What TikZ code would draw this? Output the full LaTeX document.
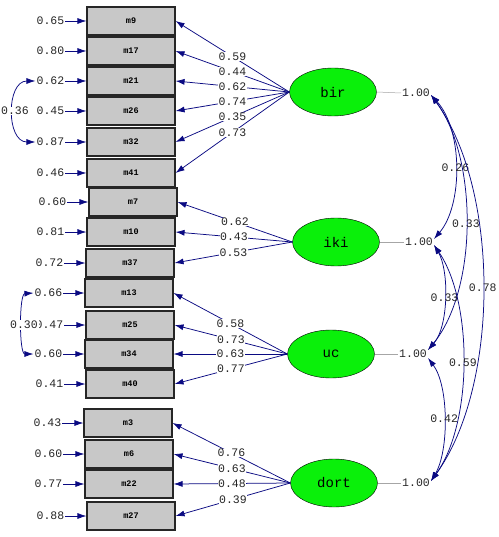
\documentclass[tikz,border=0pt]{standalone}
\usepackage{fontspec}
\setmonofont{Liberation Mono}
\usetikzlibrary{shapes.geometric,arrows.meta,positioning}
\definecolor{lisblue}{RGB}{10,10,130}
\definecolor{latgreen}{RGB}{10,240,10}
\definecolor{boxgray}{RGB}{200,200,200}

\begin{document}
\begin{tikzpicture}[x=1pt,y=-1pt,
  ind/.style={draw=black!85,line width=1.1pt,fill=boxgray,minimum width=88pt,
    minimum height=28pt,inner sep=0pt,font=\ttfamily\bfseries\fontsize{8.5}{9}\selectfont},
  lat/.style={ellipse,draw,fill=latgreen,minimum width=87pt,minimum height=48pt,
    inner sep=0pt,font=\ttfamily\fontsize{14}{16}\selectfont},
  num/.style={font=\ttfamily\fontsize{11.5}{13}\selectfont,text=black!85,inner sep=1pt},
  lab/.style={num,fill=white,inner sep=0.5pt},
  arr/.style={draw=lisblue,line width=0.75pt,-{Latex[length=9pt,width=6pt]}},
  cov/.style={draw=lisblue,line width=0.75pt,
    {Latex[length=9pt,width=6pt]}-{Latex[length=9pt,width=6pt]}}]

\useasboundingbox (0,0) rectangle (498,537);

% observed variables
\node[ind] (m9) at (131,21) {m9};
\node[ind] (m17) at (131,51) {m17};
\node[ind] (m21) at (131,81) {m21};
\node[ind] (m26) at (131,111) {m26};
\node[ind] (m32) at (131,142) {m32};
\node[ind] (m41) at (131,173) {m41};
\node[ind] (m7) at (133,202) {m7};
\node[ind] (m10) at (131,232) {m10};
\node[ind] (m37) at (130,263) {m37};
\node[ind] (m13) at (129,293) {m13};
\node[ind] (m25) at (130,325) {m25};
\node[ind] (m34) at (129,354) {m34};
\node[ind] (m40) at (130,384) {m40};
\node[ind] (m3) at (128,423) {m3};
\node[ind] (m6) at (129,454) {m6};
\node[ind] (m22) at (129,484) {m22};
\node[ind] (m27) at (131,516) {m27};

% error variances
\node[num,left=21pt of m9] (e9) {0.65};
\node[num,left=21pt of m17] (e17) {0.80};
\node[num,left=21pt of m21] (e21) {0.62};
\node[num,left=21pt of m26] (e26) {0.45};
\node[num,left=21pt of m32] (e32) {0.87};
\node[num,left=21pt of m41] (e41) {0.46};
\node[num,left=21pt of m7] (e7) {0.60};
\node[num,left=21pt of m10] (e10) {0.81};
\node[num,left=21pt of m37] (e37) {0.72};
\node[num,left=21pt of m13] (e13) {0.66};
\node[num,left=21pt of m25] (e25) {0.47};
\node[num,left=21pt of m34] (e34) {0.60};
\node[num,left=21pt of m40] (e40) {0.41};
\node[num,left=21pt of m3] (e3) {0.43};
\node[num,left=21pt of m6] (e6) {0.60};
\node[num,left=21pt of m22] (e22) {0.77};
\node[num,left=21pt of m27] (e27) {0.88};

\draw[arr] (e9) -- (m9);
\draw[arr] (e17) -- (m17);
\draw[arr] (e21) -- (m21);
\draw[arr] (e26) -- (m26);
\draw[arr] (e32) -- (m32);
\draw[arr] (e41) -- (m41);
\draw[arr] (e7) -- (m7);
\draw[arr] (e10) -- (m10);
\draw[arr] (e37) -- (m37);
\draw[arr] (e13) -- (m13);
\draw[arr] (e25) -- (m25);
\draw[arr] (e34) -- (m34);
\draw[arr] (e40) -- (m40);
\draw[arr] (e3) -- (m3);
\draw[arr] (e6) -- (m6);
\draw[arr] (e22) -- (m22);
\draw[arr] (e27) -- (m27);

% correlated errors
\draw[cov] (e21.west) .. controls (6,81) and (6,142) .. (e32.west);
\node[lab] (r1) at (15,111) {0.36};
\draw[cov] (e13.west) .. controls (19,294) and (19,354) .. (e34.west);
\node[lab,inner sep=1.5pt] (r2) at (24,325) {0.30};

% latent variables
\node[lat] (bir) at (333,92) {bir};
\node[lat] (iki) at (336,242) {iki};
\node[lat] (uc) at (331,354) {uc};
\node[lat] (dort) at (334,483) {dort};

\node[num] (o1) at (416,93) {1.00};
\node[num] (o2) at (419,242) {1.00};
\node[num] (o3) at (413,354) {1.00};
\node[num] (o4) at (416,483) {1.00};
\begin{scope}[gray!70, line width=0.5pt]
\draw (bir.east) -- (o1.west);
\draw (iki.east) -- (o2.west);
\draw (uc.east) -- (o3.west);
\draw (dort.east) -- (o4.west);
\end{scope}

% loadings
\draw[arr] (bir.west) -- node[lab]{0.59} (m9.east);
\draw[arr] (bir.west) -- node[lab]{0.44} (m17.east);
\draw[arr] (bir.west) -- node[lab]{0.62} (m21.east);
\draw[arr] (bir.west) -- node[lab]{0.74} (m26.east);
\draw[arr] (bir.west) -- node[lab]{0.35} (m32.east);
\draw[arr] (bir.west) -- node[lab]{0.73} (m41.east);
\draw[arr] (iki.west) -- node[lab]{0.62} (m7.east);
\draw[arr] (iki.west) -- node[lab]{0.43} (m10.east);
\draw[arr] (iki.west) -- node[lab]{0.53} (m37.east);
\draw[arr] (uc.west) -- node[lab]{0.58} (m13.east);
\draw[arr] (uc.west) -- node[lab]{0.73} (m25.east);
\draw[arr] (uc.west) -- node[lab]{0.63} (m34.east);
\draw[arr] (uc.west) -- node[lab]{0.77} (m40.east);
\draw[arr] (dort.west) -- node[lab]{0.76} (m3.east);
\draw[arr] (dort.west) -- node[lab]{0.63} (m6.east);
\draw[arr] (dort.west) -- node[lab]{0.48} (m22.east);
\draw[arr] (dort.west) -- node[lab]{0.39} (m27.east);

% factor correlations
\draw[cov] ([yshift=-2pt]o1.east) .. controls (463,130) and (463,205)
  .. ([yshift=3pt]o2.east) node[num,pos=0.5] {0.26};
\draw[cov] ([yshift=-2pt]o1.east) .. controls (478,158) and (478,289)
  .. ([yshift=4pt]o3.east) node[num,pos=0.5] {0.33};
\draw[cov] ([yshift=-2pt]o1.east) .. controls (500,190) and (500,386)
  .. ([yshift=2pt]o4.east) node[num,pos=0.5] {0.78};
\draw[cov] ([yshift=-3pt]o2.east) .. controls (449,270) and (449,326)
  .. ([yshift=4pt]o3.east) node[num,pos=0.5] {0.33};
\draw[cov] ([yshift=-3pt]o2.east) .. controls (473,302) and (473,423)
  .. ([yshift=2pt]o4.east) node[num,pos=0.5] {0.59};
\draw[cov] ([yshift=-4pt]o3.east) .. controls (449,386) and (449,451)
  .. ([yshift=2pt]o4.east) node[num,pos=0.5] {0.42};
\end{tikzpicture}
\end{document}
